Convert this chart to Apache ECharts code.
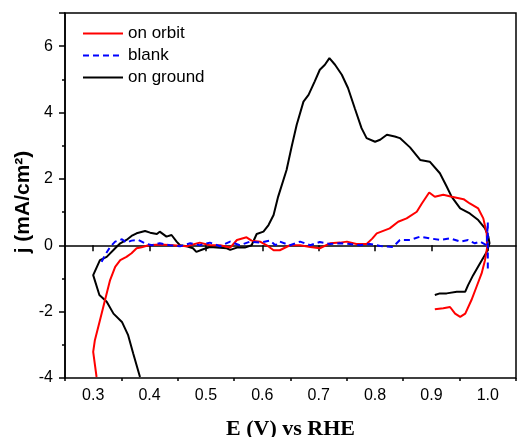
<!DOCTYPE html>
<html>
<head>
<meta charset="utf-8">
<script src="https://cdn.jsdelivr.net/npm/echarts@6/dist/echarts.min.js"></script>
<style>html,body{margin:0;padding:0;background:#fff;}#c{width:517px;height:437px;}</style>
</head>
<body>
<div id="c"></div>
<script>
const seriesNames = ['on orbit', 'blank', 'on ground'];
const xTicks = [0.3, 0.4, 0.5, 0.6, 0.7, 0.8, 0.9, 1.0];
const yTicks = [-4, -2, 0, 2, 4, 6];
const yTitle = 'j (mA/cm²)';
const xTitle = 'E (V) vs RHE';

const orbitE = [0.306,0.300,0.303,0.312,0.321,0.330,0.339,0.348,0.359,0.368,0.377,0.386,0.398,0.418,0.442,0.466,0.489,0.507,0.525,0.543,0.555,0.572,0.581,0.596,0.608,0.620,0.631,0.649,0.667,0.685,0.702,0.720,0.738,0.750,0.767,0.785,0.795,0.803,0.826,0.841,0.856,0.874,0.883,0.896,0.906,0.921,0.936,0.957,0.968,0.983,0.992,0.998,0.999,0.995,0.989,0.980,0.971,0.960,0.951,0.942,0.933,0.921,0.906];
const orbitJ = [-3.97,-3.21,-2.86,-2.26,-1.65,-1.05,-0.65,-0.45,-0.35,-0.24,-0.09,-0.06,0.00,0.02,0.00,-0.03,0.08,0.00,0.00,-0.07,0.16,0.24,0.14,0.11,0.00,-0.15,-0.15,0.00,0.00,-0.05,-0.09,0.06,0.08,0.11,0.04,0.04,0.20,0.36,0.51,0.71,0.81,1.01,1.26,1.59,1.46,1.52,1.46,1.39,1.26,1.11,0.81,0.36,-0.05,-0.45,-0.85,-1.25,-1.65,-2.06,-2.16,-2.06,-1.86,-1.90,-1.93];

const blankE = [0.315,0.321,0.330,0.339,0.351,0.359,0.368,0.380,0.392,0.404,0.418,0.436,0.454,0.472,0.489,0.507,0.525,0.543,0.560,0.578,0.596,0.614,0.623,0.631,0.649,0.667,0.685,0.702,0.720,0.738,0.755,0.773,0.791,0.809,0.832,0.844,0.862,0.880,0.897,0.915,0.933,0.951,0.965,0.977,0.986,0.998,1.000,1.000];
const blankJ = [-0.50,-0.30,-0.05,0.11,0.18,0.08,0.14,0.16,0.06,0.00,0.06,0.00,-0.03,0.06,0.00,0.08,-0.03,0.11,0.00,0.11,0.08,0.14,0.00,0.11,0.00,0.11,0.00,0.10,0.04,0.06,0.04,0.00,0.04,-0.02,-0.05,0.16,0.16,0.26,0.21,0.16,0.21,0.11,0.16,0.06,0.11,0.00,0.70,-0.75];

const groundE = [0.383,0.371,0.362,0.351,0.336,0.324,0.311,0.300,0.303,0.312,0.324,0.339,0.348,0.359,0.368,0.377,0.392,0.401,0.413,0.418,0.430,0.439,0.448,0.454,0.466,0.477,0.483,0.495,0.507,0.519,0.537,0.543,0.555,0.569,0.581,0.590,0.602,0.611,0.620,0.628,0.643,0.652,0.661,0.673,0.682,0.693,0.702,0.711,0.719,0.729,0.741,0.752,0.764,0.776,0.785,0.800,0.809,0.821,0.835,0.844,0.862,0.880,0.897,0.915,0.927,0.936,0.951,0.968,0.983,0.995,1.001,1.003,0.998,0.986,0.974,0.965,0.960,0.945,0.927,0.915,0.906];
const groundJ = [-3.97,-3.26,-2.71,-2.31,-2.06,-1.70,-1.50,-0.90,-0.85,-0.45,-0.35,-0.09,0.06,0.16,0.28,0.36,0.43,0.38,0.34,0.41,0.26,0.31,0.11,0.00,-0.03,-0.09,-0.20,-0.12,-0.05,-0.07,-0.09,-0.14,-0.07,-0.07,0.00,0.34,0.41,0.61,0.91,1.46,2.27,2.97,3.63,4.33,4.53,4.94,5.29,5.44,5.64,5.44,5.14,4.74,4.13,3.53,3.23,3.12,3.18,3.33,3.28,3.23,2.95,2.57,2.52,2.17,1.77,1.46,1.11,0.96,0.76,0.51,0.26,0.06,-0.20,-0.55,-0.90,-1.20,-1.40,-1.40,-1.45,-1.45,-1.50];

const pairs = (xs, ys) => xs.map((x, i) => [x, ys[i]]);
const sans = "'Liberation Sans', Arial, sans-serif";
const serif = "'Liberation Serif', 'Times New Roman', serif";

const chart = echarts.init(document.getElementById('c'), null, {renderer: 'canvas'});
chart.setOption({
  animation: false,
  backgroundColor: '#fff',
  grid: {left: 65, right: 1, top: 13, bottom: 59, outerBoundsMode: 'none', containLabel: false,
         show: true, borderColor: '#000', borderWidth: 1.5, backgroundColor: 'transparent'},
  legend: {
    data: seriesNames, orient: 'vertical', left: 82, top: 25, padding: 0,
    itemWidth: 40, itemHeight: 14, itemGap: 5,
    itemStyle: {opacity: 0},
    textStyle: {fontSize: 17, color: '#000', fontFamily: sans}
  },
  graphic: [{
    type: 'text', x: 23, y: 202, rotation: Math.PI / 2, silent: true,
    style: {text: yTitle, fill: '#000', font: "bold 21px 'Liberation Sans', Arial, sans-serif",
            textAlign: 'center', textVerticalAlign: 'middle', align: 'center', verticalAlign: 'middle'}
  }],
  xAxis: [
    {
      type: 'value', min: 0.25, max: 1.05, position: 'bottom',
      axisLine: {lineStyle: {color: '#000', width: 1.5}},
      axisTick: {customValues: xTicks, length: 6, lineStyle: {color: '#000', width: 1.5}},
      axisLabel: {customValues: xTicks, formatter: v => Number(v).toFixed(1), fontSize: 16, color: '#000', margin: 10, fontFamily: sans},
      splitLine: {show: false},
      name: xTitle, nameLocation: 'middle', nameGap: 40,
      nameTextStyle: {fontSize: 22, fontWeight: 'bold', fontFamily: serif, color: '#000'}
    },
    {
      type: 'value', min: 0.25, max: 1.05, interval: 0.1, position: 'bottom',
      axisLine: {show: false},
      axisTick: {length: 3, lineStyle: {color: '#000', width: 1.5}},
      axisLabel: {show: false}, splitLine: {show: false}
    }
  ],
  yAxis: {
    type: 'value', min: -4, max: 7, interval: 2,
    axisLine: {lineStyle: {color: '#000', width: 1.5}},
    axisTick: {length: 6, lineStyle: {color: '#000', width: 1.5}},
    minorTick: {show: true, splitNumber: 2, length: 3, lineStyle: {color: '#000', width: 1.5}},
    axisLabel: {customValues: yTicks, fontSize: 16, color: '#000', margin: 12, fontFamily: sans},
    splitLine: {show: false}
  },
  series: [
    {name: 'on orbit', type: 'line', xAxisIndex: 0, data: pairs(orbitE, orbitJ), showSymbol: false, symbol: 'none', z: 3,
     lineStyle: {color: '#ff0000', width: 2}, itemStyle: {color: '#ff0000'}},
    {name: 'blank', type: 'line', xAxisIndex: 0, data: pairs(blankE, blankJ), showSymbol: false, symbol: 'none', z: 4,
     lineStyle: {color: '#0000ff', width: 2, type: [6, 4]}, itemStyle: {color: '#0000ff'}},
    {name: 'on ground', type: 'line', xAxisIndex: 0, data: pairs(groundE, groundJ), showSymbol: false, symbol: 'none', z: 2,
     lineStyle: {color: '#000000', width: 2}, itemStyle: {color: '#000000'}}
  ]
});
</script>
</body>
</html>
